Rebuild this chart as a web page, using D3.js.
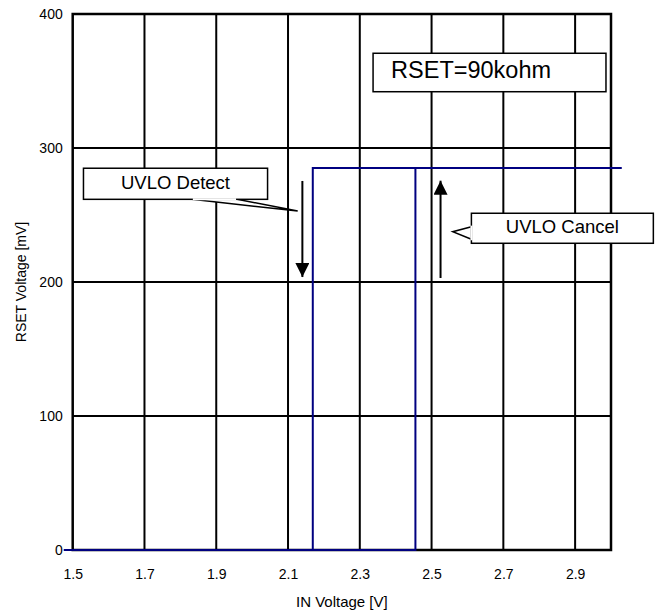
<!DOCTYPE html>
<html>
<head>
<meta charset="utf-8">
<script src="https://cdn.jsdelivr.net/npm/d3@7"></script>
<style>
  html, body { margin: 0; padding: 0; background: #fff; }
  svg { display: block; }
  text { font-family: "Liberation Sans", Arial, sans-serif; fill: #000; }
</style>
</head>
<body>
<svg id="chart" width="664" height="614"></svg>
<script>
// ---- data ----
const xTicks = [1.5, 1.7, 1.9, 2.1, 2.3, 2.5, 2.7, 2.9];
const yTicks = [0, 100, 200, 300, 400];
const xGrid = [1.7, 1.9, 2.1, 2.3, 2.5, 2.7, 2.9];
const yGrid = [100, 200, 300];
// hysteresis: detect at 2.17 V (falling), cancel at 2.455 V (rising)
const lowBranchX = [1.475, 2.455, 2.455];
const lowBranchY = [0, 0, 285];
const highBranchX = [2.169, 2.169, 3.03];
const highBranchY = [0, 285, 285];
const xTitle = "IN Voltage [V]";
const yTitle = "RSET Voltage [mV]";
const labelRset = "RSET=90kohm";
const labelDetect = "UVLO Detect";
const labelCancel = "UVLO Cancel";

// ---- layout ----
const svg = d3.select("#chart");
const L = 72.7, T = 14, R = 611, B = 550;
const x = d3.scaleLinear().domain([1.5, 3.0]).range([L, R]);
const y = d3.scaleLinear().domain([0, 400]).range([B, T]);

// grid
svg.append("g").selectAll("line").data(xGrid).join("line")
  .attr("x1", d => x(d)).attr("x2", d => x(d)).attr("y1", T).attr("y2", B)
  .attr("stroke", "#000").attr("stroke-width", 2);
svg.append("g").selectAll("line").data(yGrid).join("line")
  .attr("y1", d => y(d)).attr("y2", d => y(d)).attr("x1", L).attr("x2", R)
  .attr("stroke", "#000").attr("stroke-width", 2);

// frame
svg.append("rect").attr("x", L).attr("y", T).attr("width", R - L).attr("height", B - T)
  .attr("fill", "none").attr("stroke", "#000").attr("stroke-width", 2.5);

// axes (labels only)
const xAxis = d3.axisBottom(x).tickValues(xTicks).tickSize(0).tickPadding(0).tickFormat(d3.format(".1f"));
const gx = svg.append("g").attr("transform", `translate(0,${B})`).call(xAxis);
gx.select(".domain").remove();
gx.selectAll("text").attr("y", 29).attr("dy", null).style("font-size", "14px")
  .style("font-family", "'Liberation Sans', Arial, sans-serif");

const yAxis = d3.axisLeft(y).tickValues(yTicks).tickSize(0).tickPadding(0).tickFormat(d3.format("d"));
const gy = svg.append("g").attr("transform", `translate(${L},0)`).call(yAxis);
gy.select(".domain").remove();
gy.selectAll("text").attr("x", -10).attr("dy", "0.35em").style("font-size", "14px")
  .style("font-family", "'Liberation Sans', Arial, sans-serif");

// titles
svg.append("text").attr("x", (L + R) / 2).attr("y", 607).attr("text-anchor", "middle")
  .style("font-size", "15px").text(xTitle);
svg.append("text").attr("transform", `translate(26,${(T + B) / 2}) rotate(-90)`)
  .attr("text-anchor", "middle").style("font-size", "14px").text(yTitle);

// series
const line = d3.line().x(d => x(d[0])).y(d => y(d[1]));
svg.append("path").datum(d3.zip(lowBranchX, lowBranchY)).attr("d", line)
  .attr("fill", "none").attr("stroke", "#000080").attr("stroke-width", 2);
svg.append("path").datum(d3.zip(highBranchX, highBranchY)).attr("d", line)
  .attr("fill", "none").attr("stroke", "#000080").attr("stroke-width", 2);

// arrows
const defs = svg.append("defs");
defs.append("marker").attr("id", "ah").attr("viewBox", "0 0 10 10")
  .attr("refX", 10).attr("refY", 5).attr("markerWidth", 15).attr("markerHeight", 14)
  .attr("markerUnits", "userSpaceOnUse").attr("orient", "auto")
  .append("path").attr("d", "M0,0 L10,5 L0,10 Z").attr("fill", "#000");
svg.append("line").attr("x1", x(2.14)).attr("x2", x(2.14)).attr("y1", y(275.4)).attr("y2", y(203.7))
  .attr("stroke", "#000").attr("stroke-width", 2).attr("marker-end", "url(#ah)");
svg.append("line").attr("x1", x(2.525)).attr("x2", x(2.525)).attr("y1", y(203)).attr("y2", y(275.6))
  .attr("stroke", "#000").attr("stroke-width", 2).attr("marker-end", "url(#ah)");

// callouts
function box(x0, x1, y0, y1) {
  svg.append("rect").attr("x", x(x0)).attr("y", y(y0)).attr("width", x(x1) - x(x0)).attr("height", y(y1) - y(y0))
    .attr("fill", "#fff").attr("stroke", "#000").attr("stroke-width", 1.5);
}
// RSET box
box(2.337, 2.986, 370.7, 342);
svg.append("text").attr("x", x(2.337) + 18).attr("y", 78).style("font-size", "23.5px").text(labelRset);

// UVLO Detect callout
svg.append("path").attr("d", `M${x(1.832)},${y(261.7)} L${x(2.127)},${y(253)} L${x(1.958)},${y(261.7)}`)
  .attr("fill", "#fff").attr("stroke", "#000").attr("stroke-width", 1.5);
box(1.530, 2.043, 284.9, 261.7);
svg.append("path").attr("d", `M${x(1.832)+1},${y(261.7)} L${x(1.958)-1},${y(261.7)}`)
  .attr("stroke", "#fff").attr("stroke-width", 2);
svg.append("text").attr("x", (x(1.530) + x(2.043)) / 2).attr("y", 189).attr("text-anchor", "middle")
  .style("font-size", "18.5px").text(labelDetect);

// UVLO Cancel callout
svg.append("path").attr("d", `M${x(2.611)},${y(241.3)} L${x(2.559)},${y(237.5)} L${x(2.611)},${y(231.9)}`)
  .attr("fill", "#fff").attr("stroke", "#000").attr("stroke-width", 1.5);
box(2.611, 3.118, 251.3, 228.9);
svg.append("path").attr("d", `M${x(2.611)},${y(241.3)-1} L${x(2.611)},${y(231.9)+1}`)
  .attr("stroke", "#fff").attr("stroke-width", 2);
svg.append("text").attr("x", (x(2.611) + x(3.118)) / 2).attr("y", 233).attr("text-anchor", "middle")
  .style("font-size", "18.5px").text(labelCancel);
</script>
</body>
</html>
